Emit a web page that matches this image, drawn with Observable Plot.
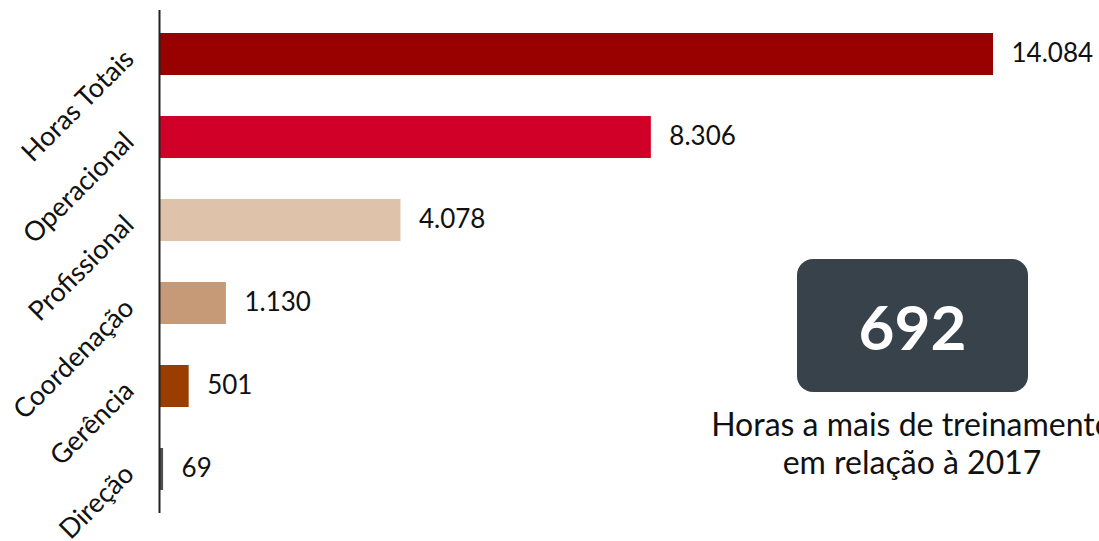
<!DOCTYPE html>
<html>
<head>
<meta charset="utf-8">
<script src="https://cdn.jsdelivr.net/npm/d3@7"></script>
<script src="https://cdn.jsdelivr.net/npm/@observablehq/plot@0.6"></script>
<style>
  html, body { margin: 0; padding: 0; background: #fff; overflow: hidden; }
  #wrap { position: relative; width: 1099px; height: 541px; font-family: Lato, sans-serif; overflow: hidden; }
  #box { position: absolute; left: 797px; top: 259px; width: 231px; height: 133px; background: #38424b; border-radius: 16px;
         color: #fff; font-weight: 700; font-size: 62px; display: flex; align-items: center; justify-content: center; }
  #note { position: absolute; left: 612px; width: 600px; top: 405px; text-align: center; font-size: 32px; line-height: 38px; color: #111; white-space: nowrap; }
</style>
</head>
<body>
<div id="wrap">
  <div id="chart"></div>
  <div id="box"></div>
  <div id="note"></div>
</div>
<script>
const categories = ["Horas Totais", "Operacional", "Profissional", "Coordenação", "Gerência", "Direção"];
const values = [14084, 8306, 4078, 1130, 501, 69];
const valueLabels = ["14.084", "8.306", "4.078", "1.130", "501", "69"];
const colors = ["#990000", "#d10029", "#dec2aa", "#c69a77", "#993d00", "#505050"];
const highlightValue = "692";
const noteLines = ["Horas a mais de treinamento", "em relação à 2017"];

const data = categories.map((c, i) => ({ cat: c, value: values[i], label: valueLabels[i], color: colors[i] }));

const chart = Plot.plot({
  width: 1099,
  height: 541,
  marginLeft: 159,
  marginRight: 106,
  marginTop: 10,
  marginBottom: 28,
  style: { fontFamily: "Lato, sans-serif", background: "transparent" },
  x: { domain: [0, 14084], axis: null },
  y: { domain: categories, padding: 0.5, paddingOuter: 0.25, axis: null },
  marks: [
    Plot.barX(data, { x: "value", y: "cat", fill: "color" }),
    Plot.text(data, { x: "value", y: "cat", text: "label", textAnchor: "start", dx: 18, dy: -1, fontSize: 26, fill: "#111" }),
    Plot.ruleX([0], { stroke: "#222", strokeWidth: 2 }),
    Plot.axisY({ tickSize: 0, tickRotate: -45, tickPadding: 30, fontSize: 27, label: null, fill: "#111" })
  ]
});
document.getElementById("chart").appendChild(chart);
document.getElementById("box").textContent = highlightValue;
document.getElementById("note").innerHTML = noteLines.join("<br>");
</script>
</body>
</html>
